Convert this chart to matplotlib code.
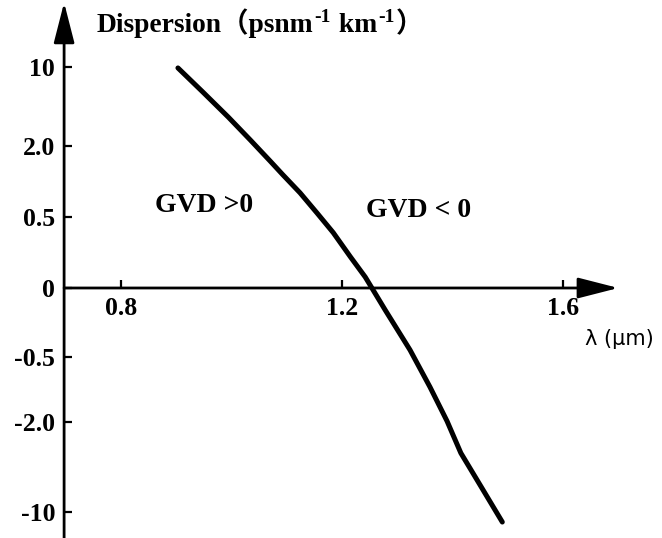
import numpy as np
import matplotlib.pyplot as plt
from matplotlib.ticker import NullLocator

# dispersion curve: wavelength (um) vs dispersion (ps nm^-1 km^-1)
wavelength = [0.903, 0.948, 0.994, 1.034, 1.070, 1.093, 1.124, 1.155, 1.184,
              1.215, 1.242, 1.254, 1.278, 1.323, 1.359, 1.390, 1.415, 1.452,
              1.490]
dispersion = [9.95, 7.50, 4.95, 2.61, 1.68, 1.39, 1.01, 0.58, 0.39,
              0.22, 0.077, 0.0, -0.159, -0.449, -1.19, -1.98, -4.76, -7.78,
              -10.89]

x_ticks = [0.8, 1.2, 1.6]
x_tick_labels = ['0.8', '1.2', '1.6']
y_ticks = [-10, -2.0, -0.5, 0, 0.5, 2.0, 10]
y_tick_labels = ['-10', '-2.0', '-0.5', '0', '0.5', '2.0', '10']

# the vertical axis is stretched piecewise so every labelled value gets its own step
scale_values = [-20, -10, -2.0, -0.5, 0, 0.5, 2.0, 10, 20]
scale_steps = [-4.74, -3.155, -1.887, -0.972, 0, 1.0, 2.0, 3.106, 4.49]


def forward(v):
    return np.interp(v, scale_values, scale_steps)


def inverse(s):
    return np.interp(s, scale_steps, scale_values)


SERIF = ['Liberation Serif', 'Noto Sans CJK SC', 'DejaVu Serif']

fig = plt.figure(figsize=(6.62, 5.38), dpi=100)
ax = fig.add_axes([0, 0, 1, 1])
ax.set_yscale('function', functions=(forward, inverse))

x_left, x_tip = 0.697, 1.70
ax.set_xlim(0.581, 1.779)
ax.set_ylim(inverse(-3.521), inverse(4.056))

for side in ['top', 'right']:
    ax.spines[side].set_visible(False)
ax.spines['left'].set_position(('data', x_left))
ax.spines['bottom'].set_position(('data', 0))
ax.spines['left'].set_color('none')
ax.spines['bottom'].set_color('none')

# axis lines with arrow heads
arrow = dict(arrowstyle='-|>,head_length=1.25,head_width=0.32', color='k',
             lw=2.0, mutation_scale=20, shrinkA=0, shrinkB=0)
ax.annotate('', xy=(x_tip, 0), xytext=(x_left, 0), arrowprops=arrow)
ax.annotate('', xy=(x_left, inverse(4.02)), xytext=(x_left, inverse(-3.521)),
            arrowprops=arrow)

ax.set_xticks(x_ticks, x_tick_labels)
ax.set_yticks(y_ticks, y_tick_labels)
ax.xaxis.set_minor_locator(NullLocator())
ax.yaxis.set_minor_locator(NullLocator())
ax.tick_params(direction='in', length=6, width=1.6, color='k', pad=6.5)
for lab in ax.get_xticklabels() + ax.get_yticklabels():
    lab.set_fontfamily(SERIF)
    lab.set_fontweight('bold')
    lab.set_fontsize(18.5)

ax.plot(wavelength, dispersion, color='k', lw=3.6, solid_capstyle='round',
        solid_joinstyle='round')

ax.text(0.234, 0.606, 'GVD >0', transform=ax.transAxes, family=SERIF,
        weight='bold', size=20, va='baseline')
ax.text(0.553, 0.597, 'GVD < 0', transform=ax.transAxes, family=SERIF,
        weight='bold', size=20, va='baseline')
ax.text(0.884, 0.359, 'λ (μm)', transform=ax.transAxes, family='DejaVu Sans',
        size=15, va='baseline')

# axis title built piece by piece so the exponents sit raised
title_kw = dict(family=SERIF, weight='bold', size=19.8, va='bottom')
sup_kw = dict(family=SERIF, weight='bold', size=14, va='bottom')
t = ax.text(0.1465, 0.9405, 'Dispersion（psnm', transform=ax.transAxes,
            family=SERIF, weight='bold', size=19.8, va='baseline')
pieces = [('-1', sup_kw, 8.6), (' km', title_kw, -8.6),
          ('-1', sup_kw, 8.6), ('）', title_kw, -8.6)]
for s, kw, dy in pieces:
    t = ax.annotate(s, xy=(1, 0), xycoords=t, xytext=(0.8, dy),
                    textcoords='offset points', **kw)

fig.savefig('out.png', dpi=100)
